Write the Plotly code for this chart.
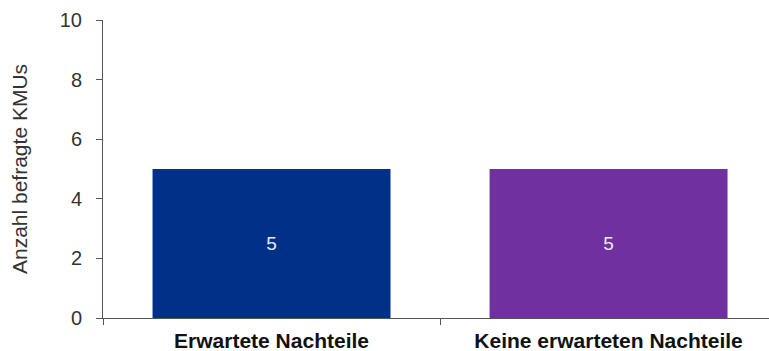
import plotly.graph_objects as go

categories = ["Erwartete Nachteile", "Keine erwarteten Nachteile"]
values = [5, 5]
colors = ["#003087", "#7030A0"]
y_ticks = [0, 2, 4, 6, 8, 10]

FONT = "Liberation Sans, Arial"

fig = go.Figure(go.Bar(
    x=categories, y=values, marker=dict(color=colors, line=dict(width=0)),
    text=[str(v) for v in values], textposition="inside", insidetextanchor="middle",
    textfont=dict(color="#e8e8f0", size=19, family=FONT),
))
fig.update_layout(
    width=769, height=351,
    margin=dict(l=103, r=0, t=20, b=33),
    plot_bgcolor="white", paper_bgcolor="white",
    bargap=0.294, showlegend=False,
    font=dict(family=FONT, color="#222"),
)
fig.update_xaxes(
    type="category", range=[-0.5, 1.476], tickson="boundaries",
    showline=True, linecolor="#555", linewidth=1,
    ticks="outside", ticklen=6, tickcolor="#555",
    tickfont=dict(size=21, family=FONT, color="#111", weight="bold"),
    ticklabelstandoff=4, automargin=False,
    showgrid=False,
)
fig.update_yaxes(
    range=[0, 10], tickvals=y_ticks, showline=True, linecolor="#555", linewidth=1,
    ticks="outside", ticklen=6, tickcolor="#555", showgrid=False, zeroline=False,
    tickfont=dict(size=20, color="#333"), ticklabelstandoff=10, automargin=False,
    title=dict(text="Anzahl befragte KMUs", font=dict(size=21, color="#333"), standoff=26),
)
fig.write_html("out.html")
